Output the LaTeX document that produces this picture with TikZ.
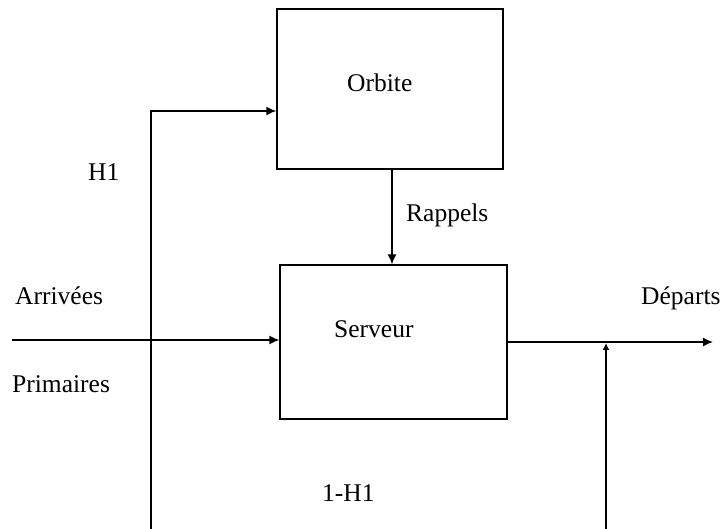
\documentclass[tikz,border=0pt]{standalone}
\usepackage{fontspec}
\setmainfont{Liberation Serif}
\usetikzlibrary{arrows.meta}
\tikzset{
  lbl/.style={anchor=base west, inner sep=0pt, font=\fontsize{25.5}{28}\selectfont},
  boxn/.style={draw, line width=1.4pt, inner sep=0pt, minimum width=#1},
  conn/.style={line width=1.4pt, -{Latex[length=10pt,width=9pt]}},
  smallconn/.style={line width=1.4pt, -{Latex[length=7pt,width=7pt]}}
}
\begin{document}
\begin{tikzpicture}[x=1pt,y=-1pt]
\useasboundingbox (0,0) rectangle (721,529);
% boxes
\node[boxn=226pt, minimum height=160pt] (orb) at (390,89) {};
\node[boxn=227pt, minimum height=154pt] (srv) at (393.5,342) {};
% labels
\node[lbl] (tOrb) at (347,92) {Orbite};
\node[lbl] (tSrv) at (334,338) {Serveur};
\node[lbl] (tRap) at (406,222) {Rappels};
\node[lbl] (tH1) at (88,181) {H1};
\node[lbl] (tArr) at (15,305) {Arrivées};
\node[lbl] (tPri) at (12,393) {Primaires};
\node[lbl] (tHH) at (322,502) {1-H1};
\node[lbl] (tDep) at (641,305) {Départs};
% coordinates
\coordinate (in) at (12,340);
\coordinate (hb) at (151,529);
\coordinate (hy) at (151,111);
\coordinate (rx) at (392,0);
\coordinate (out) at (713,342);
\coordinate (vb) at (606,529);
\coordinate (vt) at (606,343);
% connectors
\draw[conn] (in) -- (in -| srv.west);
\draw[conn] (hb) -- (hy) -- (hy -| orb.west);
\draw[conn] (orb.south -| rx) -- (rx |- srv.north);
\draw[conn] (srv.east) -- (out);
\draw[smallconn] (vb) -- (vt);
\end{tikzpicture}
\end{document}
